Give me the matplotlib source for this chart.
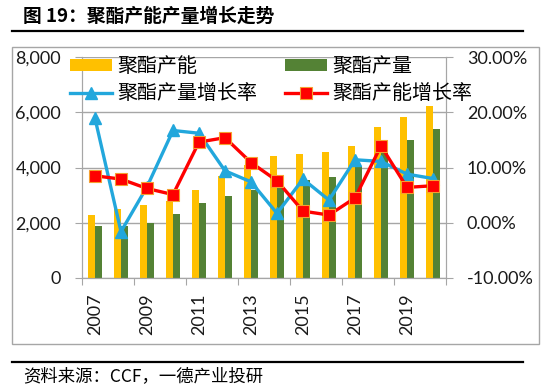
import numpy as np
import matplotlib.pyplot as plt
from matplotlib.patches import Rectangle
from matplotlib.lines import Line2D
from matplotlib.ticker import FuncFormatter

plt.rcParams['font.family'] = ['Lato', 'Noto Sans CJK SC']

# 数据
years = [str(y) for y in range(2007, 2021)]
capacity = [2290, 2500, 2630, 2780, 3180, 3710, 4100, 4410, 4500, 4570, 4780, 5470, 5810, 6230]
output = [1890, 1870, 1990, 2330, 2700, 2960, 3200, 3260, 3550, 3660, 4070, 4540, 4980, 5380]
output_growth = [18.9, -1.6, 6.5, 16.7, 16.2, 9.4, 7.4, 1.7, 7.9, 4.1, 11.4, 11.1, 8.8, 8.0]
capacity_growth = [8.5, 7.9, 6.2, 5.1, 14.6, 15.4, 10.9, 7.6, 2.1, 1.4, 4.5, 13.9, 6.4, 6.7]

W, H = 550, 386
fig = plt.figure(figsize=(W / 100, H / 100), dpi=100)
ax = fig.add_axes([82 / W, 1 - 278 / H, (446 - 82) / W, (278 - 57) / H])
ax2 = ax.twinx()

grey = '#A6A6A6'
x = np.arange(len(years))
bw = 0.27
b1 = ax.bar(x - bw / 2, capacity, bw, color='#FFC000', label='聚酯产能', zorder=2)
b2 = ax.bar(x + bw / 2, output, bw, color='#548235', label='聚酯产量', zorder=2)

l1, = ax2.plot(x, np.array(output_growth) / 100, color='#22A7DC', lw=2.4,
               marker='^', ms=8, label='聚酯产量增长率')
l2, = ax2.plot(x, np.array(capacity_growth) / 100, color='#FF0000', lw=2.4,
               marker='s', ms=8, mec='#F5A030', mew=0.8, label='聚酯产能增长率')

ax.set_xlim(-0.5, len(years) - 0.5)
ax.set_ylim(0, 8000)
ax.set_yticks(range(0, 8001, 2000))
ax.yaxis.set_major_formatter(FuncFormatter(lambda v, p: f'{v:,.0f}'))
ax.grid(axis='y', color=grey, lw=1, zorder=0)
ax.set_axisbelow(True)

ax2.set_ylim(-0.10, 0.30)
ax2.set_yticks([-0.1, 0.0, 0.1, 0.2, 0.3])
ax2.yaxis.set_major_formatter(FuncFormatter(lambda v, p: f'{v:.2%}'))

ax.set_xticks(np.arange(-0.5, len(years), 2))
ax.set_xticklabels([])
ax.set_xticks(x[::2], minor=True)
ax.set_xticklabels(years[::2], minor=True, rotation=90)
ax.tick_params(axis='x', which='major', length=5, color=grey)
ax.tick_params(axis='x', which='minor', length=0, pad=11, labelsize=13, labelcolor='#1a1a1a')
ax.tick_params(axis='y', length=5, color=grey, pad=10, labelsize=13, labelcolor='#1a1a1a')
ax2.tick_params(axis='y', length=5, color=grey, pad=10, labelsize=13, labelcolor='#1a1a1a')

for a in (ax, ax2):
    a.spines['top'].set_visible(False)
    for s in ('left', 'right', 'bottom'):
        a.spines[s].set_color(grey)

ax2.legend(handles=[b1, l1, b2, l2], ncol=2, loc='upper left',
           bbox_to_anchor=(70 / W, 1 - 56 / H), bbox_transform=fig.transFigure,
           frameon=False, handlelength=2.1, handleheight=0.5,
           handletextpad=0.25, columnspacing=1.4, labelspacing=0.3,
           borderpad=0, borderaxespad=0, prop={'family': ['Noto Sans CJK SC'], 'size': 14.4})

# 外框与标题线
fig.add_artist(Rectangle((12 / W, 1 - 344 / H), (539 - 12) / W, (344 - 47) / H,
                         transform=fig.transFigure, fill=False, edgecolor=grey, lw=1))
fig.add_artist(Line2D([12 / W, 523 / W], [1 - 31 / H] * 2, color='black', lw=1.6))
fig.add_artist(Line2D([12 / W, 523 / W], [1 - 362 / H] * 2, color='black', lw=1.6))

fig.text(23 / W, 1 - 16 / H, '图 19：聚酯产能产量增长走势', va='center', ha='left',
         fontsize=13.5, weight='bold', family=['Noto Sans CJK SC'])
fig.text(23 / W, 1 - 376 / H, '资料来源：CCF，一德产业投研', va='center', ha='left',
         fontsize=12.5, family=['Noto Sans CJK SC'])

fig.savefig('out.png', dpi=100)
